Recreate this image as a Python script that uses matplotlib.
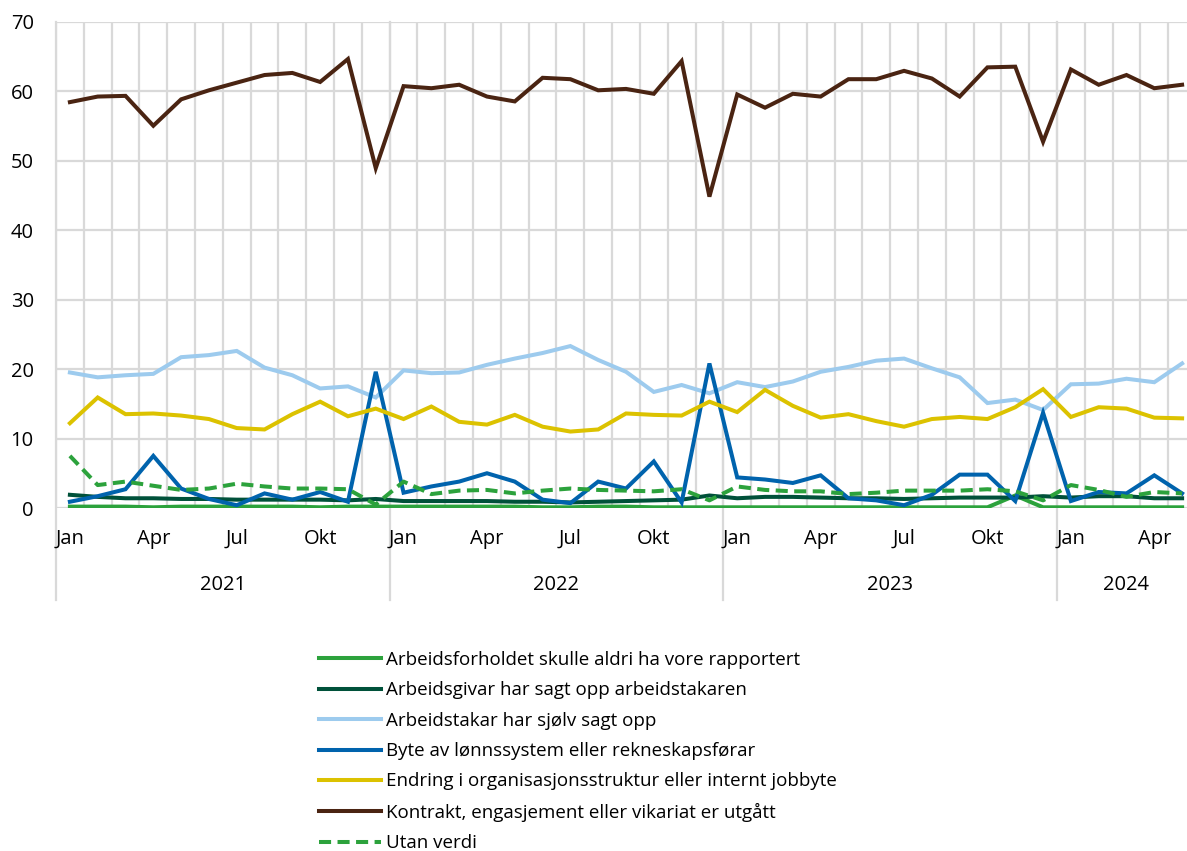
import numpy as np
import matplotlib
matplotlib.use("Agg")
import matplotlib.pyplot as plt
import matplotlib.transforms as mtransforms

plt.rcParams["font.family"] = ["Open Sans", "DejaVu Sans"]

# ── Data (månadleg, jan 2021 – mai 2024) ─────────────────────────────────
month_labels = ["Jan", "Apr", "Jul", "Okt"]
years = ["2021", "2022", "2023", "2024"]
n_months = 41

aldri_rapportert = [0.2, 0.2, 0.2, 0.1, 0.2, 0.2, 0.2, 0.2, 0.2, 0.1, 0.2, 0.2,
                    0.2, 0.2, 0.2, 0.2, 0.2, 0.1, 0.1, 0.2, 0.2, 0.1, 0.1, 0.1,
                    0.1, 0.1, 0.1, 0.1, 0.1, 0.1, 0.1, 0.1, 0.1, 0.1, 1.8, 0.1,
                    0.1, 0.1, 0.1, 0.1, 0.1]
arbeidsgivar = [1.9, 1.6, 1.4, 1.4, 1.3, 1.3, 1.2, 1.2, 1.2, 1.2, 1.1, 1.3,
                1.0, 1.0, 1.0, 1.0, 0.9, 0.9, 0.8, 0.9, 1.0, 1.1, 1.2, 1.8,
                1.4, 1.6, 1.6, 1.5, 1.4, 1.4, 1.3, 1.4, 1.5, 1.5, 1.5, 1.7,
                1.5, 1.7, 1.7, 1.4, 1.4]
arbeidstakar = [19.5, 18.8, 19.1, 19.3, 21.7, 22.0, 22.6, 20.2, 19.1, 17.2, 17.5, 15.9,
                19.8, 19.4, 19.5, 20.6, 21.5, 22.3, 23.3, 21.3, 19.6, 16.7, 17.7, 16.5,
                18.1, 17.4, 18.2, 19.6, 20.3, 21.2, 21.5, 20.1, 18.8, 15.1, 15.6, 14.1,
                17.8, 17.9, 18.6, 18.1, 20.8]
byte_lonnssystem = [0.9, 1.7, 2.7, 7.5, 2.8, 1.3, 0.4, 2.1, 1.2, 2.3, 0.9, 19.6,
                    2.2, 3.1, 3.8, 5.0, 3.8, 1.2, 0.7, 3.8, 2.8, 6.7, 0.8, 20.8,
                    4.4, 4.1, 3.6, 4.7, 1.4, 1.1, 0.4, 1.9, 4.8, 4.8, 1.0, 13.7,
                    1.0, 2.3, 2.1, 4.7, 2.1]
endring_org = [12.2, 15.9, 13.5, 13.6, 13.3, 12.8, 11.5, 11.3, 13.5, 15.3, 13.2, 14.3,
               12.8, 14.6, 12.4, 12.0, 13.4, 11.7, 11.0, 11.3, 13.6, 13.4, 13.3, 15.3,
               13.8, 17.0, 14.7, 13.0, 13.5, 12.5, 11.7, 12.8, 13.1, 12.8, 14.5, 17.1,
               13.1, 14.5, 14.3, 13.0, 12.9]
kontrakt = [58.4, 59.2, 59.3, 55.0, 58.8, 60.1, 61.2, 62.3, 62.6, 61.3, 64.6, 48.9,
            60.7, 60.4, 60.9, 59.2, 58.5, 61.9, 61.7, 60.1, 60.3, 59.6, 64.3, 44.8,
            59.5, 57.6, 59.6, 59.2, 61.7, 61.7, 62.9, 61.8, 59.2, 63.4, 63.5, 52.7,
            63.1, 60.9, 62.3, 60.4, 60.9]
utan_verdi = [7.5, 3.3, 3.8, 3.2, 2.6, 2.8, 3.5, 3.1, 2.8, 2.8, 2.7, 0.5,
              3.8, 2.0, 2.5, 2.6, 2.1, 2.5, 2.8, 2.6, 2.5, 2.4, 2.7, 1.1,
              3.1, 2.6, 2.4, 2.4, 2.0, 2.2, 2.5, 2.5, 2.5, 2.7, 2.4, 1.1,
              3.3, 2.6, 1.6, 2.3, 2.1]

series = [
    ("Arbeidsforholdet skulle aldri ha vore rapportert", aldri_rapportert, "#2ca23c", "-"),
    ("Arbeidsgivar har sagt opp arbeidstakaren", arbeidsgivar, "#00513a", "-"),
    ("Arbeidstakar har sjølv sagt opp", arbeidstakar, "#9dcbee", "-"),
    ("Byte av lønnssystem eller rekneskapsførar", byte_lonnssystem, "#0063ad", "-"),
    ("Endring i organisasjonsstruktur eller internt jobbyte", endring_org, "#dcc200", "-"),
    ("Kontrakt, engasjement eller vikariat er utgått", kontrakt, "#4a2412", "-"),
    ("Utan verdi", utan_verdi, "#2ca23c", (0, (3.0, 1.6))),
]

# ── Figur ────────────────────────────────────────────────────────────────
W, H = 1187, 851
fig = plt.figure(figsize=(W / 100, H / 100), dpi=100)
ax_l, ax_r, ax_t, ax_b = 56, 1196, 21.5, 508
ax = fig.add_axes([ax_l / W, 1 - ax_b / H, (ax_r - ax_l) / W, (ax_b - ax_t) / H])

x = np.arange(n_months)
for label, vals, color, ls in series:
    ax.plot(x, vals, color=color, lw=2.9, ls=ls, label=label,
            solid_joinstyle="miter", zorder=3)

ax.set_xlim(-0.5, n_months - 0.5)
ax.set_ylim(0, 70)
ax.set_yticks(np.arange(0, 71, 10))
ax.tick_params(axis="y", length=0, pad=16, labelsize=14.5)

# kategori-grenser som vertikale rutenett
ax.set_xticks(np.arange(-0.5, n_months, 1), minor=True)
ax.set_xticks(np.arange(0, n_months, 3))
ax.set_xticklabels([month_labels[(i // 3) % 4] for i in range(0, n_months, 3)])
ax.tick_params(axis="x", which="both", length=0, pad=15, labelsize=14.5)
ax.grid(axis="x", which="minor", color="#d9d9d9", lw=1.6, zorder=0)
ax.grid(axis="y", which="major", color="#d9d9d9", lw=1.6, zorder=0)
ax.set_axisbelow(True)
for s in ax.spines.values():
    s.set_visible(False)

# år-grupper under aksen
trans = mtransforms.blended_transform_factory(ax.transData, ax.transAxes)
bottom_frac = -(600 - ax_b) / (ax_b - ax_t)
for b in [-0.5, 11.5, 23.5, 35.5]:
    ax.plot([b, b], [bottom_frac, 1], color="#d9d9d9", lw=1.6,
            transform=trans, clip_on=False, zorder=0)
year_frac = -(585 - ax_b) / (ax_b - ax_t)
for k, yr in enumerate(years):
    start = -0.5 + 12 * k
    end = min(start + 12, n_months - 0.5)
    ax.text((start + end) / 2, year_frac, yr, transform=trans,
            ha="center", va="center", fontsize=14.5)

leg = fig.legend(loc="upper left", bbox_to_anchor=(319 / W, 1 - 651 / H),
                 frameon=False, fontsize=13.5, handlelength=3.3, handletextpad=0.3,
                 labelspacing=0.66, borderpad=0, borderaxespad=0)

fig.savefig("out.png", dpi=100)
